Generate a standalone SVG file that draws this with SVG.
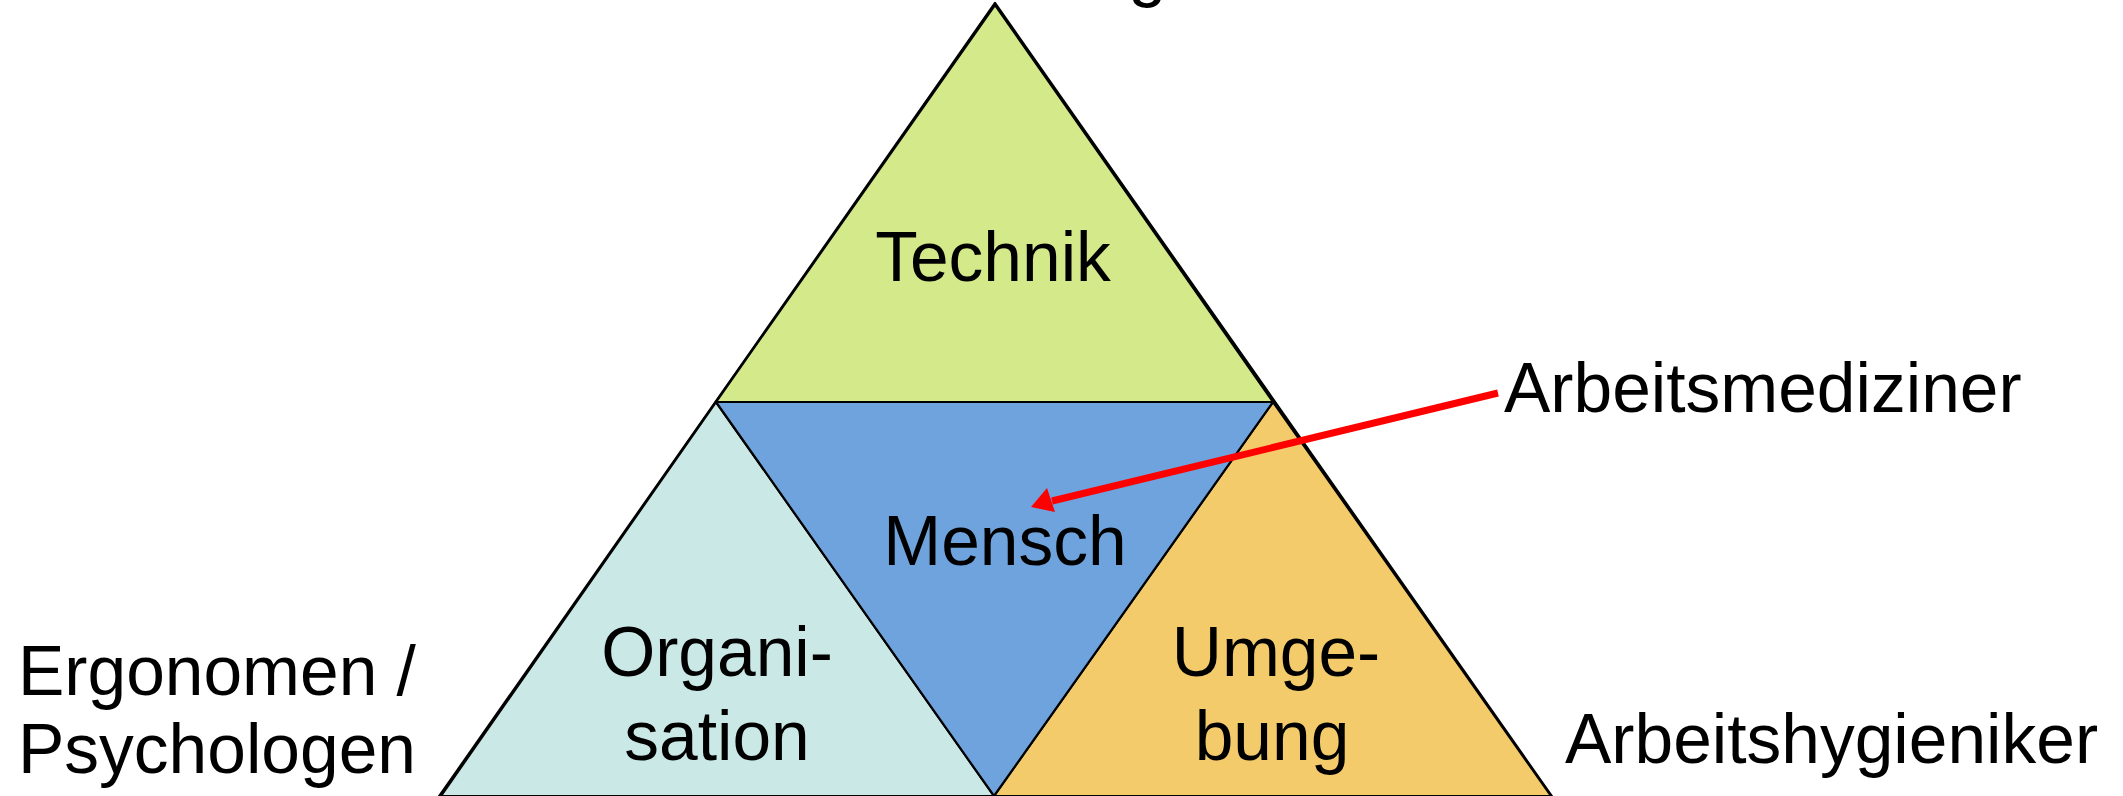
<svg xmlns="http://www.w3.org/2000/svg" width="2123" height="796" viewBox="0 0 2123 796">
<style>
.tri{stroke:#000;stroke-width:2.2;stroke-linejoin:round}
.lbl{font-family:"Liberation Sans",Arial,sans-serif;font-size:69.5px;fill:#000}
.mid{text-anchor:middle}
</style>
<rect width="2123" height="796" fill="#fff"/>
<g id="outer">
<polygon class="tri" points="995,3 435,802 1556,802" fill="#6FA3DD"/>
</g>
<g id="technik">
<polygon class="tri" points="995,5 716,402 1273,402" fill="#D4EA8A"/>
<text class="lbl mid" x="993" y="281">Technik</text>
</g>
<g id="organisation">
<polygon class="tri" points="716,402 441,796 994,796" fill="#C9E8E6"/>
<text class="lbl mid" x="717" y="676">Organi-</text>
<text class="lbl mid" x="717" y="760">sation</text>
</g>
<g id="umgebung">
<polygon class="tri" points="1273,402 994,796 1551,796" fill="#F3CB6B"/>
<text class="lbl mid" x="1276" y="676">Umge-</text>
<text class="lbl mid" x="1272" y="760">bung</text>
</g>
<g id="mensch">
<polygon class="tri" points="716,402 1273,402 994,796" fill="#6FA3DD"/>
<text class="lbl mid" x="1005" y="565">Mensch</text>
</g>
<g id="arbeitsmediziner">
<text class="lbl" x="1504" y="412">Arbeitsmediziner</text>
</g>
<g id="arbeitshygieniker">
<text class="lbl" x="1565" y="763">Arbeitshygieniker</text>
</g>
<g id="ergonomen">
<text class="lbl" x="18" y="695">Ergonomen /</text>
<text class="lbl" x="18" y="773">Psychologen</text>
</g>
<g id="top-label">
<text class="lbl" x="1070" y="-7">Ingenieure</text>
</g>
<g id="connectors">
<line x1="1498" y1="393" x2="1052" y2="501" stroke="#FF0000" stroke-width="7"/>
<polygon points="1031,507 1047,488 1055,512" fill="#FF0000"/>
</g>
</svg>
